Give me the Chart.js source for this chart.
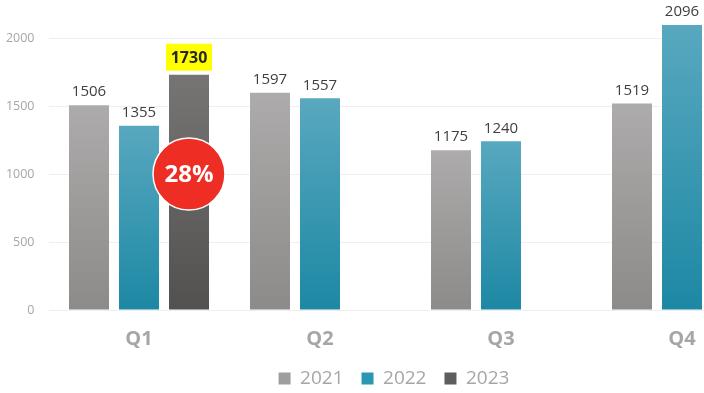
<!DOCTYPE html>
<html>
<head>
<meta charset="utf-8">
<script src="https://cdn.jsdelivr.net/npm/chart.js@4.4.1/dist/chart.umd.min.js"></script>
<style>
html,body{margin:0;padding:0;background:#fff;overflow:hidden;}
#wrap{width:704px;height:393px;overflow:hidden;position:relative;background:#fff;}
#c{position:absolute;left:0;top:0;}
</style>
</head>
<body>
<div id="wrap"><canvas id="c" width="788" height="398"></canvas></div>
<script>
// ---- data ----
const categories = ['Q1', 'Q2', 'Q3', 'Q4'];
const seriesNames = ['2021', '2022', '2023'];
const values2021 = [1506, 1597, 1175, 1519];
const values2022 = [1355, 1557, 1240, 2096];
const values2023 = [1730, null, null, null];
const yTicks = [0, 500, 1000, 1500, 2000];
const yMax = 2200;
const highlightSeries = 2;     // 2023
const highlightIndex = 0;      // Q1
const badgeText = '28%';
const badgeValue = 1000;

// ---- styles ----
const FONT = '"Open Sans", "Noto Sans", sans-serif';
const gradTop = ['#adabab', '#58a8bf', '#777574'];
const gradBottom = ['#8d8b89', '#1d88a4', '#53514f'];
const legendColors = ['#a09e9d', '#2b97b3', '#5f5d5b'];

function barGradient(si) {
  return function (c) {
    const chart = c.chart;
    if (c.type !== 'data' || !chart.chartArea || c.raw == null) return gradTop[si];
    const ys = chart.scales.y;
    const y0 = ys.getPixelForValue(0);
    const y1 = ys.getPixelForValue(c.raw);
    if (!isFinite(y0) || !isFinite(y1) || y0 === y1) return gradTop[si];
    const g = chart.ctx.createLinearGradient(0, y1, 0, y0);
    g.addColorStop(0, gradTop[si]);
    g.addColorStop(1, gradBottom[si]);
    return g;
  };
}

const seriesValues = [values2021, values2022, values2023];

const labelPlugin = {
  id: 'barLabels',
  afterDatasetsDraw(chart) {
    const ctx = chart.ctx;
    chart.data.datasets.forEach((ds, di) => {
      const meta = chart.getDatasetMeta(di);
      meta.data.forEach((bar, i) => {
        const v = ds.data[i];
        if (v == null) return;
        ctx.save();
        ctx.textAlign = 'center';
        ctx.textBaseline = 'middle';
        if (di === highlightSeries && i === highlightIndex) {
          const cy = bar.y - 17.5;
          ctx.fillStyle = '#ffff00';
          ctx.fillRect(bar.x - 23, cy - 13.5, 46, 27);
          ctx.font = 'bold 16px ' + FONT;
          ctx.fillStyle = '#262626';
          ctx.fillText(String(v), bar.x, cy + 1.5);
        } else {
          ctx.font = '15px ' + FONT;
          ctx.fillStyle = '#404040';
          ctx.fillText(String(v), bar.x, bar.y - 13);
        }
        ctx.restore();
      });
    });
    // badge
    const hb = chart.getDatasetMeta(highlightSeries).data[highlightIndex];
    const bx = hb.x;
    const by = chart.scales.y.getPixelForValue(badgeValue);
    ctx.save();
    ctx.beginPath();
    ctx.arc(bx, by, 36, 0, Math.PI * 2);
    ctx.fillStyle = '#ee2d24';
    ctx.fill();
    ctx.lineWidth = 1.5;
    ctx.strokeStyle = '#ffffff';
    ctx.stroke();
    ctx.fillStyle = '#ffffff';
    ctx.font = 'bold 24px ' + FONT;
    ctx.textAlign = 'center';
    ctx.textBaseline = 'middle';
    ctx.fillText(badgeText, bx, by + 1);
    ctx.restore();
  }
};

new Chart(document.getElementById('c'), {
  type: 'bar',
  data: {
    labels: categories,
    datasets: seriesNames.map((name, si) => ({
      label: name,
      data: seriesValues[si],
      backgroundColor: barGradient(si),
      borderWidth: 0,
      barPercentage: 0.8,
      categoryPercentage: 150 / 181
    }))
  },
  options: {
    responsive: false,
    animation: false,
    layout: { padding: { top: 10.8, left: 0, right: 0, bottom: 0 } },
    plugins: {
      tooltip: { enabled: false },
      legend: {
        position: 'bottom',
        labels: {
          boxWidth: 12,
          boxHeight: 12,
          padding: 18,
          color: '#a6a6a6',
          font: { family: FONT, size: 19 },
          generateLabels(chart) {
            return chart.data.datasets.map((ds, i) => ({
              text: ds.label,
              fillStyle: legendColors[i],
              strokeStyle: legendColors[i],
              lineWidth: 0,
              fontColor: '#a6a6a6',
              hidden: false,
              datasetIndex: i
            }));
          }
        }
      }
    },
    scales: {
      x: {
        grid: { display: false, drawTicks: false },
        border: { display: false },
        ticks: {
          color: '#a6a6a6',
          font: { family: FONT, size: 20, weight: 'bold' },
          padding: 17
        },
        afterFit(s) { s.height = 41; }
      },
      y: {
        min: 0,
        max: yMax,
        afterBuildTicks(s) { s.ticks = yTicks.map(v => ({ value: v })); },
        ticks: {
          color: '#a6a6a6',
          font: { family: FONT, size: 12.5 },
          padding: 0,
          callback: (v) => String(v)
        },
        grid: { color: '#efefef', lineWidth: 1, drawTicks: true, tickLength: 14, tickColor: 'rgba(0,0,0,0)' },
        border: { display: false },
        afterFit(s) { s.width = 48.5; }
      },
      yR: {
        position: 'right',
        display: true,
        grid: { display: false, drawTicks: false },
        border: { display: false },
        ticks: { display: false },
        afterFit(s) { s.width = 15.5; }
      }
    }
  },
  plugins: [labelPlugin]
});
</script>
</body>
</html>
